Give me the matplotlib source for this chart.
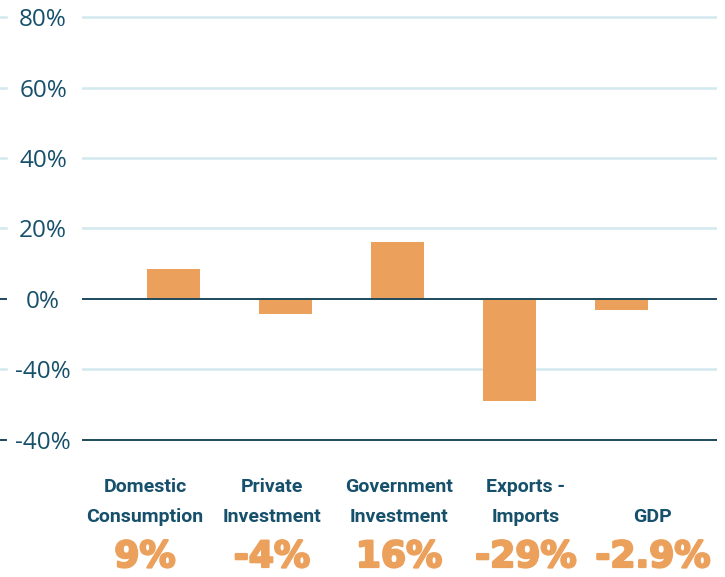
import numpy as np
import matplotlib
matplotlib.use("Agg")
import matplotlib.pyplot as plt
import matplotlib.patheffects as pe
from matplotlib.transforms import blended_transform_factory

CATEGORIES = ["Domestic\nConsumption", "Private\nInvestment", "Government\nInvestment",
              "Exports -\nImports", "GDP"]
VALUES = [8.6, -4.2, 16.3, -29.0, -3.0]
VALUE_LABELS = ["9%", "-4%", "16%", "-29%", "-2.9%"]
YTICKS = [80, 60, 40, 20, 0, -20, -40]
YTICK_LABELS = ["80%", "60%", "40%", "20%", "0%", "-40%", "-40%"]
DARK_LINES = [0, -40]

BAR = "#eba05c"
TEAL = "#17506b"
GRID = "#d3e9ef"
DARK = "#1d4a5e"

W, H = 725, 577
fig = plt.figure(figsize=(W / 100, H / 100), dpi=100)
ax = fig.add_axes([82 / W, 1 - 442 / H, (717 - 82) / W, (442 - 15) / H])

x = np.arange(len(VALUES))
ax.bar(x, VALUES, width=0.47, color=BAR, zorder=3)

ax.set_xlim((82 - 173.5) / 112, (717 - 173.5) / 112)
ax.set_ylim(-40.6, 80.6)
for s in ax.spines.values():
    s.set_visible(False)
ax.set_xticks([])
ax.set_yticks(YTICKS)
ax.set_yticklabels(YTICK_LABELS, fontsize=17.5, color=TEAL, family="Open Sans")
ax.tick_params(axis="y", length=0, pad=28)
for lab in ax.get_yticklabels():
    lab.set_ha("center")

stub = blended_transform_factory(fig.transFigure, ax.transData)
for t in YTICKS:
    dark = t in DARK_LINES
    c = DARK if dark else GRID
    lw = 1.4 if dark else 1.8
    ax.axhline(t, color=c, lw=lw, zorder=4 if dark else 1)
    ax.plot([0, 6 / W], [t, t], color=c, lw=lw, transform=stub, clip_on=False)

for i, (cat, lab) in enumerate(zip(CATEGORIES, VALUE_LABELS)):
    fx = (145 + 127 * i) / W
    lines = cat.split("\n")
    if len(lines) == 1:
        lines = [""] + lines
    for j, ln in enumerate(lines):
        fig.text(fx, 1 - (487 + 30 * j) / H, ln, ha="center", va="center",
                 fontsize=14, fontweight="bold", color=TEAL, family="Roboto")
    fig.text(fx, 1 - 557 / H, lab, ha="center", va="center",
             fontsize=26, fontweight="bold", color=BAR, family="DejaVu Sans",
             path_effects=[pe.Stroke(linewidth=1.6, foreground=BAR), pe.Normal()])

fig.savefig("out.png", dpi=100)
